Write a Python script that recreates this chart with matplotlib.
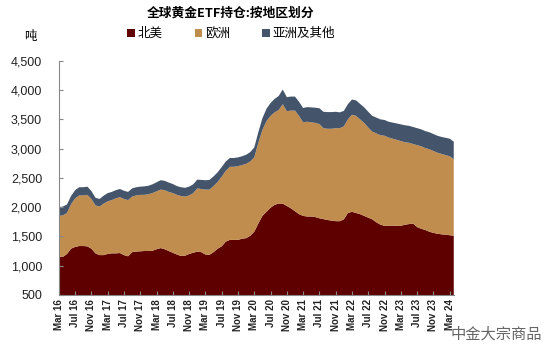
import matplotlib
matplotlib.use("Agg")
import matplotlib.pyplot as plt
import numpy as np

# Monthly readings, Mar 2016 .. Apr 2024 (tonnes)
north_america = [1150, 1150, 1200, 1290, 1320, 1335, 1335, 1330, 1290, 1210,
                 1180, 1180, 1200, 1210, 1210, 1215, 1180, 1160, 1230, 1240,
                 1245, 1250, 1250, 1255, 1280, 1300, 1280, 1250, 1220, 1190,
                 1165, 1170, 1200, 1220, 1240, 1230, 1190, 1185, 1230, 1290,
                 1330, 1410, 1440, 1440, 1440, 1460, 1470, 1510, 1580, 1720,
                 1850, 1920, 1990, 2040, 2060, 2060, 2020, 1980, 1930, 1880,
                 1850, 1840, 1840, 1830, 1810, 1795, 1780, 1770, 1760, 1760,
                 1790, 1900, 1920, 1900, 1880, 1850, 1820, 1790, 1740, 1700,
                 1680, 1680, 1685, 1680, 1680, 1700, 1710, 1720, 1660, 1630,
                 1610, 1580, 1560, 1545, 1535, 1530, 1520, 1510]
europe = [700, 710, 700, 760, 830, 865, 865, 880, 850, 820,
          830, 880, 900, 910, 940, 955, 960, 960, 950, 960,
          965, 960, 970, 985, 990, 1000, 1010, 1010, 1020, 1020,
          1025, 1010, 1000, 1020, 1080, 1080, 1110, 1115, 1130, 1140,
          1190, 1210, 1250, 1250, 1260, 1260, 1270, 1270, 1270, 1380,
          1470, 1550, 1570, 1580, 1600, 1700, 1620, 1670, 1720, 1680,
          1600, 1620, 1610, 1610, 1610, 1555, 1560, 1570, 1590, 1590,
          1590, 1600, 1660, 1660, 1620, 1590, 1540, 1500, 1520, 1530,
          1540, 1510, 1485, 1470, 1450, 1410, 1390, 1360, 1400, 1410,
          1400, 1410, 1400, 1385, 1375, 1360, 1350, 1310]
asia_other = [150, 150, 145, 140, 140, 140, 140, 140, 135, 130,
              130, 135, 140, 140, 140, 140, 140, 140, 140, 140,
              140, 145, 145, 150, 155, 160, 160, 160, 155, 150,
              150, 150, 150, 150, 150, 155, 160, 165, 165, 165,
              165, 160, 150, 150, 150, 150, 155, 160, 170, 180,
              200, 210, 220, 230, 240, 250, 240, 240, 240, 240,
              245, 250, 255, 260, 270, 280, 285, 285, 280, 270,
              265, 260, 260, 265, 265, 265, 270, 270, 270, 270,
              270, 270, 275, 280, 285, 290, 290, 290, 290, 290,
              290, 290, 290, 290, 290, 295, 300, 300]

tick_labels = ["Mar 16", "Jul 16", "Nov 16", "Mar 17", "Jul 17", "Nov 17",
               "Mar 18", "Jul 18", "Nov 18", "Mar 19", "Jul 19", "Nov 19",
               "Mar 20", "Jul 20", "Nov 20", "Mar 21", "Jul 21", "Nov 21",
               "Mar 22", "Jul 22", "Nov 22", "Mar 23", "Jul 23", "Nov 23",
               "Mar 24"]
series_names = ["北美", "欧洲", "亚洲及其他"]
colors = ["#5E0000", "#C08D4E", "#44546A"]

cjk = ["Noto Sans CJK SC", "DejaVu Sans"]
lat = ["Liberation Sans", "DejaVu Sans"]

x = np.arange(len(north_america))

fig = plt.figure(figsize=(5.5, 3.54), dpi=100)
ax = fig.add_axes([0.107, 0.167, 0.718, 0.661])
ax.stackplot(x, north_america, europe, asia_other, colors=colors,
             labels=series_names, linewidth=0)

ax.set_xlim(0, len(x) - 1)
ax.set_ylim(500, 4500)
ax.set_yticks(np.arange(500, 4501, 500))
ax.set_yticklabels([f"{v:,}" for v in range(500, 4501, 500)],
                   fontsize=9, family=lat, color="#222222")
ax.set_xticks(np.arange(0, len(tick_labels) * 4, 4))
ax.set_xticklabels(tick_labels, rotation=90, fontsize=7, fontweight="bold",
                   family=lat, color="#222222")
ax.tick_params(axis="both", direction="in", length=3, color="#888888", width=0.8)
ax.tick_params(axis="y", pad=12)
ax.tick_params(axis="x", pad=3)
for s in ["top", "right"]:
    ax.spines[s].set_visible(False)
for s in ["left", "bottom"]:
    ax.spines[s].set_color("#888888")
    ax.spines[s].set_linewidth(0.8)

fig.text(0.419, 0.962, "全球黄金ETF持仓:按地区划分", ha="center", va="center",
         fontsize=9.2, fontweight="bold", family=cjk)
fig.text(0.055, 0.898, "吨", ha="center", va="center", fontsize=9, family=cjk)

leg = fig.legend(loc="center", bbox_to_anchor=(0.42, 0.905), ncol=3,
                 frameon=False, prop={"family": cjk, "size": 9},
                 handlelength=0.6, handleheight=0.6, handletextpad=0.2,
                 columnspacing=2.6)

fig.text(0.985, 0.055, "中金大宗商品", ha="right", va="center", fontsize=11,
         family=cjk, color="#666666")

fig.savefig("out.png", dpi=100)
